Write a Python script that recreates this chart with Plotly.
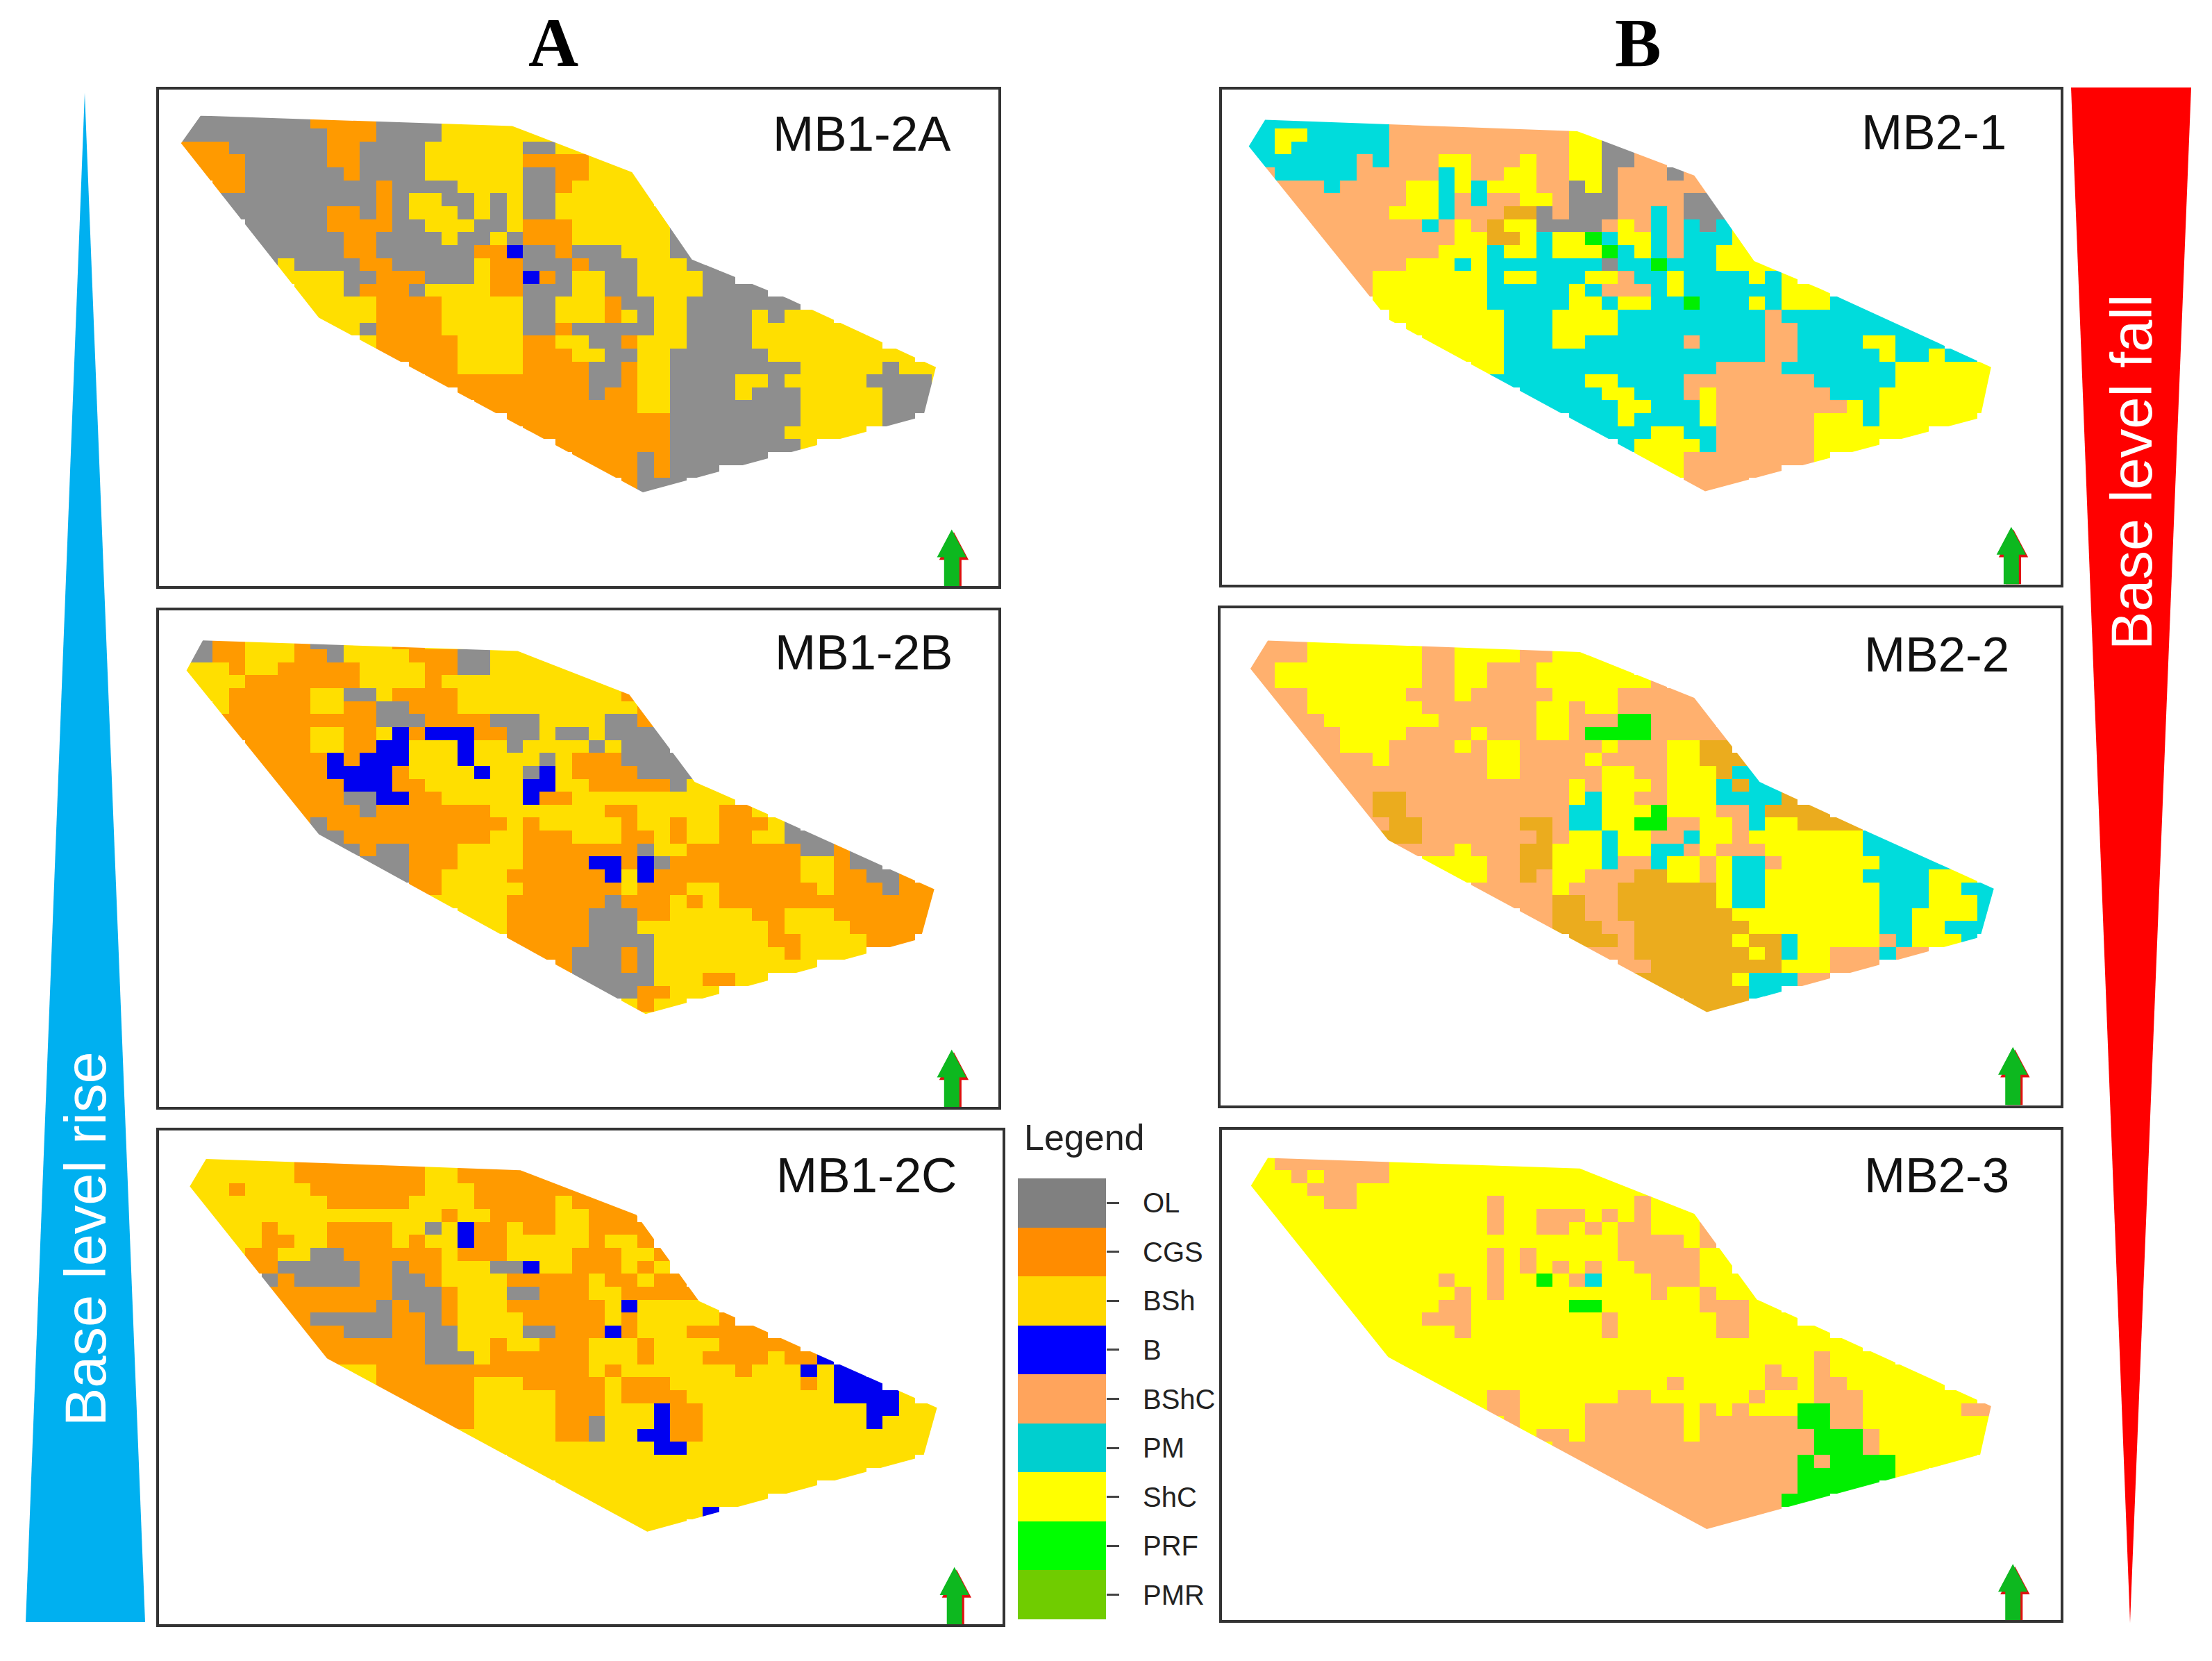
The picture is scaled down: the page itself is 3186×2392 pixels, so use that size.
import numpy as np
import plotly.graph_objects as go

W, H = 3186, 2392

LEGEND_LABELS = ["OL", "CGS", "BSh", "B", "BShC", "PM", "ShC", "PRF", "PMR"]
LEGEND_COLORS = ["#808080", "#FF8C00", "#FFD800", "#0000FF", "#FFA45C", "#00CFCF", "#FFFF00", "#00FF00", "#70CC00"]
# what the letters in the maps mean, D is the darker BShC patch that has no legend entry
MAP_CODES = "OCHBKPSFMD"
MAP_COLORS = ["#8E8E8E", "#FF9A00", "#FFDF00", "#0000F0", "#FFB06E", "#00DCDC", "#FFFF00", "#00F000", "#70CC00", "#EBAC1E"]

PANEL_NAMES = ["MB1-2A", "MB1-2B", "MB1-2C", "MB2-1", "MB2-2", "MB2-3"]

MB1_2A = [
    "OOOOOOOOCCCCOOOOHHHHH",
    "OOOOOOOOOCCCOOOOHHHHHHH",
    "CCCOOOOOOCCOOOOHHHHHHOOHH",
    "CCCCOOOOOCCOOOOHHHHHHCCCCHH",
    ".CCCOOOOOOCOOOOHHHHHHOOCCHHHH",
    "..CCOOOOOOOOCOOOOHHHHOOCHHHHH",
    "..OOOOOOOOOOCOHHOOHOHOOHHHHHH",
    "...OOOOOOCCOCOHHHOHOHOOHHHHHHH",
    "....OOOOOCCCCOOHHHOOHCCCHHHHHHO",
    "....OOOOOOCCOOOOHOOHOCCCHHHHHHOO",
    ".....OOOOOCCOOOOOOCCBOOCOOOHHHOO",
    ".....OHOOOOCCOOOOOHCCOOOCOOOHHHOO",
    "......HHHHOOCCCOOOHCCBCOHHOOHHHHOO",
    ".......HHHOCCCOHHHHCCOOOHHOOHHHHOOOO",
    ".......HHHHHCCCCHHHHHOOHHHCOOHHOOOOOOO",
    "........HHHHCCCCHHHHHOOHHHCHOHHOOOOHOHHH",
    ".........HHOCCCCHHHHHOOCOOOOOHHOOOOHHHHHHH",
    "...........HCCCCCHHHHCCHHOOCHHHOOOOHHHHHHHH",
    "............CCCCCHHHHCCCHHOOHHOOOOOOHHHHHHHHH",
    "..............CCCHHHHCCCCOOCHHOOOOOOOOHHHHHOHHH",
    "...............CCCCCCCCCCOOCHHOOOOHHOHHHHHOOOOH",
    ".................CCCCCCCCOCCHHOOOOHOOOHHHHHOOO",
    "..................CCCCCCCCCCHHOOOOOOOOHHHHHOOO",
    "....................CCCCCCCCCCOOOOOOOOHHHHHOO",
    ".....................CCCCCCCCCOOOOOOOHHHHH",
    ".......................CCCCCCCOOOOOOOOH",
    "........................CCCCOCOOOOOO",
    ".........................CCCOCOOO",
    "...........................COOO",
    "............................OO",
]

MB1_2B = [
    "OOCCHHHCOOHHHCCHHHHHH",
    "OOCCHHHCCOHHHHCCCOOHHHH",
    "HHHCHHCCCCCHHHHCCOOHHHHHH",
    "HHHHCCCCCCCHHHHCHHHHHHHHHHH",
    ".HHCCCCCHHOOHCCCCHHHHHHHHHHC",
    "..HCCCCCHHCCOOCCCHHHHHHHHHHHC",
    "..CCCCCCCCCCOOOCCCCOOOHHHHOOC",
    "...CCCCCHHCCHBCBBBCCOOHOOHOOOO",
    "....CCCCHHCCBBHHHBHHOHHHHOHOOO",
    "....CCCCCBCBBBHHHBHHHHOHCCCOOOO",
    ".....CCCCBBBBCHHHHBHHOBHCCCCOOOO",
    ".....CCCCCBBBCCHHHHHHBBHHCCCCCOHH",
    "......CCCCOOBBCCHHHHHBCCHHHHHHHHHH",
    ".......CCCCOCCCCCCCHHHHHHHCCHHHHHCCH",
    ".......COCCCCCCCCCCCHCHHHHHCHHCHHCCCHO",
    "........OOCCCCCCCCCHHCCCHHHCCHCHHCCHHOOO",
    ".........OOCOOCCCHHHHCCCCCCCOHHCCCCCCCOOCO",
    "...........OOOCCCHHHHCCCCBBCBOCCCCCCCCHHCOO",
    "............OOCCHHHHCCCCCCBHBCCCCCCCCCHHCCOOC",
    "..............CCHHHHHCCCCCCHCCCHHCCCCCCHCCCOCCC",
    "...............HHHHHCCCCCCOCCCHCHCCCCCCCCCCCCCC",
    ".................HHHCCCCCOOOCCHHHHHCCHHHCCCCCC",
    "..................HHCCCCCOOOHHHHHHHHCHHHHCCCCC",
    "....................CCCCCOOOOHHHHHHHCCHHHHCCC",
    ".....................CCCOOOCOHHHHHHHHCHHHH",
    ".......................COOOCOHHHHHHHHHH",
    "........................OOOOOHHHCCHH",
    ".........................OOOCCHHH",
    "...........................HCHH",
    "............................HH",
]

MB1_2C = [
    "HHHHHHHCCCCCCCCHHCCCCC",
    "HHHHHHHCCCCCCCCHHCCCCCCC",
    "HHHCHHHHCCCCCCCHHHCCCCCCC",
    "HHHHHHHHHCCCCCHHHHCCCCCHCCC",
    ".HHHHHHHHHHHHHHHCHHCCCCHHCCC",
    "..HHHCHHHCCCCHHOHBCCHCCHHCCCC",
    "..HHHCCHHCCCCHCHHBCCHHHHHCHHC",
    "...HCCHHOOCCCCCCHCCCHHHHCCCHHC",
    "....CCOOOOOCCOCCHHHOOBHHCCCHCH",
    ".....OCOOOOCCOOCHHHHCCCCCHCCHCC",
    ".....CCCCCCCCOOOCHHHOOCCCHHCCCCC",
    "......CCCCCCOCOOCHHHCCCCCCHBHHHHH",
    "......CCOOOOOCCOCHHHHCCCCCHCHHHHHC",
    ".......CCCOOOCCOOHHHHOOCCCBCHHHCCCCC",
    ".......CCCCCCCCOOHHCHHCCCHHHCHHHHCCCCC",
    "........CCCCCCCOOOHCCCCCCHHHCHHHCCCCHCCB",
    ".........HHHCCCCCCCCCCCCCHCHHHHHHHCHHHBHBB",
    "...........HCCCCCCHHHCCCCCHCCCHHHHHHHHCHBBB",
    "............CCCCCCHHHHHCCCHCCCCHHHHHHHHHBBBBH",
    "..............CCCCHHHHHCCCHHHBCCHHHHHHHHHHBBHHH",
    "...............CCCHHHHHCCOHHHBCCHHHHHHHHHHBHHHH",
    ".................HHHHHHCCOHHBBCCHHHHHHHHHHHHHH",
    "..................HHHHHHHHHHHBBHHHHHHHHHHHHHHH",
    "....................HHHHHHHHHHHHHHHHHHHHHHHHH",
    ".....................HHHHHHHHHHHHHHHHHHHHH",
    ".......................HHHHHHHHHHHHHHHH",
    "........................HHHHHHHHHHHH",
    ".........................HHHHHHHB",
    "...........................HHHH",
    "............................HH",
]

MB2_1 = [
    "PPPPPPPPPKKKKKKKKKKKS",
    "PPSSPPPPPKKKKKKKKKKKSSO",
    "PPSPPPPPPKKKKKKKKKKKSSOOK",
    "PPPPPPPKPKKKSSKKKSKKSSOOKK",
    ".KPPPPPKKKKKPSKKSSKKSSOKKKOK",
    "..KKKPKKKKSSPSPSSSKKOSOKKKKKK",
    "..KKKKKKKKSSPKPKKSSKOOOKKKKOO",
    "...KKKKKKSSSPKKKDDOKOOOKKPKOOO",
    "....KKKKKKKPKSKDSSOOOOKSKPKPOPS",
    "....KKKKKKKKKSSDDSPSSFPSSPKPPPS",
    ".....KKKKKKKSSSPSSPSSSFPSPKPPSSS",
    ".....KKKKKSSSPSPPPPPPPOPPFPPPSSSS",
    "......KKSSSSSSSPSSPPPSSKPPSPPPPSPS",
    ".......KSSSSSSSPPPPPSPKKKPSPPPPPPSSS",
    "........SSSSSSSPPPPPSSPSSPPFPPPSPSSSPPP",
    ".........SSSSSSSPPPSSSSPPPPPPPPPKPPPPPPP",
    "..........SSSSSSPPPSSSSPPPPPPPPPKKPPPPPPPP",
    "...........SSSSSPPPSSPPPPPPKPPPPKKPPPPSSPPP",
    "............SSSSPPPPPPPPPPPPPPPPKKPPPPPSPPSPP",
    "..............SSPPPPPPPPPPPPPKKKKPPPPPPPSSSSSSS",
    "...............PPPPPPSSPPPPKKKKKKKKPPPPPSSSSSSS",
    ".................PPPPPSSPPPKSKKKKKKKPPPSSSSSSS",
    "..................PPPPPSSPPPSKKKKKKKKSPSSSSSSS",
    "....................PPPSPPPPSKKKKKKSSSPSSSSSS",
    ".....................PPPPSSPPKKKKKKSSSSSSS",
    ".......................PSSSSPKKKKKKSSSS",
    "........................SSSKKKKKKKKS",
    ".........................SSKKKKKK",
    "...........................KKKK",
    "............................KK",
]

MB2_2 = [
    "KKKKSSSSSSSKKSSSSKKSSS",
    "KKKKSSSSSSSKKSSSSKKSSSS",
    "KKSSSSSSSSSKKSSKKKSSSSSS",
    "KKSSSSSSSSSKKSSKKKSSSSSSSK",
    ".KKKSSSSSSKKKSKKKKKSSSSKKKKK",
    "..KKSSSSSSSKKKKKKKSSKSSKKKKKK",
    "..KKKSSSSSSSKKKKKKSSKKKFFKKKK",
    "...KKKSSSSKKKKSKKKSSKFFFFKKKKK",
    "....KKSSSKKKKSKSSKKKKKSKKKSSDD",
    "....KKKKSKKKKKKSSKKKKSKKKKSSDDD",
    ".....KKKKKKKKKKSSKKKKKSSKKSSSDPP",
    ".....KKKKKKKKKKKKKKKSKSSSKSSSPDPP",
    "......KKDDKKKKKKKKKKSPSSKKSSSPPPPD",
    ".......KDDKKKKKKKKKKPPSSSFSSSKKPDDDD",
    ".......KKDDKKKKKKDDKPPSSFFKKSSKPSSDDDD",
    "........DDDKKKKKKKDKSSPSSKKPSSKSSSSSSSPPP",
    ".........KKKKSKKKDDSSSPSSPPKSKKKSSSSSSPPPP",
    "...........SSSSKKDDSSSPKKPSSKSPPKSSSSSSPPPPP",
    "............SSSKKDKSSKKKDDSSKSPPSSSSSSPPPPSSS",
    "..............KKKKKSKKKDDDDDDSPPSSSSSSSPPPSSPPP",
    "...............KKKKDDKKDDDDDDSPPSSSSSSSPPPSSSPP",
    ".................KKDDKKDDDDDDDSSSSSSSSSPPSSSSP",
    "..................KDDDKKDDDDDDDSSSSSSSSPPSSPPP",
    "....................DDDKDDDDDDSDDPSSSSSKPSSSP",
    ".....................KKKDDDDDDDSDPSSKKKPKK",
    ".......................KKDDDDDDDDSSSKKK",
    "........................DDDDDDSPPPKK",
    ".........................DDDDDDPP",
    "...........................DDDD",
    "............................DD",
]

MB2_3 = [
    "SSKKKKKKKSSSSSSSSSSSS",
    "SSSKSKKKKSSSSSSSSSSSSSS",
    "SSSSKKKSSSSSSSSSSSSSSSSSS",
    "SSSSSKKSSSSSSSSKSSSSSSSSKSS",
    ".SSSSSSSSSSSSSSKSSKKKSKSKSSS",
    "..SSSSSSSSSSSSSKSSKKSKSKKSSSK",
    "..SSSSSSSSSSSSSSSSSSSSSKKKKSK",
    "...SSSSSSSSSSSSKSKSSSSSKKKKKSS",
    "....SSSSSSSSSSSKSKSKSKSSKKKKSS",
    "....SSSSSSSSKSSKSSFSKPSSSKKKSSS",
    ".....SSSSSSSSKSKSSSSSSSSSKSSKSSS",
    ".....SSSSSSSKKSSSSSSFFSSSSSSKKKSS",
    "......SSSSSKKKSSSSSSSSKSSSSSSKKSSS",
    ".......SSSSSSKSSSSSSSSKSSSSSSKKSSSSS",
    ".......SSSSSSSSSSSSSSSSSSSSSSSSSSSSSSS",
    "........SSSSSSSSSSSSSSSSSSSSSSSSSSSKSSSS",
    ".........SSSSSSSSSSSSSSSSSSSSSSSKSSKSSSSSS",
    "...........SSSSSSSSSSSSSSSKSSSSSKKSKKSSSSSS",
    "............SSSKKSSSSSSKKSSSSSSKSSSKKKSSSSSSS",
    "..............SKKSSSSKKKKKKSKSKSSSFFKKSSSSSSKKK",
    "...............SKSSSSKKKKKKSKKKKKKFFKKSSSSSSSSS",
    ".................SKKSKKKKKKSKKKKKKKFFFKSSSSSSS",
    "..................SKKKKKKKKKKKKKKKKFFFKSSSSSSS",
    "....................KKKKKKKKKKKKKKFKFFFFSSSSS",
    ".....................KKKKKKKKKKKKKFFFFFFSS",
    ".......................KKKKKKKKKKKFFFFF",
    "........................KKKKKKKKKFFF",
    ".........................KKKKKKKK",
    "...........................KKKK",
    "............................KK",
]

MAPS = [MB1_2A, MB1_2B, MB1_2C, MB2_1, MB2_2, MB2_3]

# map outlines, same units as the grid
OUTLINE_2A = [(88, 100), (660, 132), (880, 275), (990, 545), (1165, 665), (1438, 878), (1415, 1030), (900, 1265), (305, 725), (52, 185)]
OUTLINE_2B = [(92, 112), (670, 145), (875, 280), (995, 550), (1150, 665), (1435, 882), (1410, 1035), (905, 1268), (305, 712), (62, 205)]
OUTLINE_2C = [(98, 105), (675, 140), (888, 278), (1003, 545), (1200, 695), (1440, 875), (1415, 1025), (908, 1258), (320, 722), (68, 190)]
OUTLINE_1 = [(92, 113), (665, 148), (880, 285), (990, 550), (1110, 635), (1425, 878), (1405, 1035), (900, 1262), (318, 730), (62, 195)]
OUTLINE_2 = [(97, 113), (670, 148), (880, 290), (1000, 550), (1180, 690), (1430, 880), (1405, 1030), (903, 1262), (318, 730), (65, 200)]
OUTLINE_3 = [(97, 102), (670, 135), (880, 275), (995, 540), (1425, 870), (1405, 1020), (903, 1250), (318, 718), (66, 188)]
OUTLINES = [OUTLINE_2A, OUTLINE_2B, OUTLINE_2C, OUTLINE_1, OUTLINE_2, OUTLINE_3]

# grid cell size and start
CELL_X, CELL_Y = 30, 40
START_X, START_Y = 50, 100
N_COLS, N_ROWS = 47, 30

# panel placing: where each crop of 1568 units starts on the page, and the frame inside it
CROP_SCALE_X, CROP_SCALE_Y = 1.2748, 2.148
CROP_ORIGINS = [(220, 120), (220, 870), (220, 1620), (1750, 120), (1750, 870), (1750, 1620)]
FRAMES = [(12, 1553, 20, 1555), (12, 1553, 20, 1555), (12, 1560, 18, 1545), (13, 1553, 20, 1550), (10, 1553, 12, 1550), (13, 1553, 15, 1532)]
LABEL_POS = [(1302, 155), (1305, 150), (1310, 155), (1320, 152), (1325, 155), (1325, 155)]
ARROW_X = [1467, 1467, 1472, 1462, 1465, 1465]
ARROW_TIP = [1380, 1378, 1368, 1372, 1370, 1358]


def paper_x(px):
    return px / W


def paper_y(px):
    return 1 - px / H


def discrete_scale(colors):
    n = len(colors)
    scale = []
    for i, c in enumerate(colors):
        scale.append([i / n, c])
        scale.append([(i + 1) / n, c])
    return scale


def grid_to_z(rows):
    z = np.full((N_ROWS, N_COLS), np.nan)
    for j, row in enumerate(rows):
        for i, ch in enumerate(row[:N_COLS]):
            if ch != ".":
                z[j, i] = MAP_CODES.index(ch)
    return z


def poly_path(points):
    return "M" + " L".join(f"{x},{y}" for x, y in points) + " Z"


def add_text(fig, px, py, text, size, color, family="Liberation Sans", angle=0):
    fig.add_annotation(
        x=paper_x(px), y=paper_y(py), xref="paper", yref="paper", text=text, textangle=angle,
        xanchor="center", yanchor="middle", showarrow=False,
        font=dict(family=family, size=size, color=color),
    )


def add_panel(fig, idx):
    n = idx + 1
    xname, yname = f"x{n}", f"y{n}"
    left, right, top, bottom = FRAMES[idx]
    ox, oy = CROP_ORIGINS[idx]
    frame = dict(
        showline=True, mirror=True, linewidth=4, linecolor="#333333",
        showgrid=False, zeroline=False, showticklabels=False, ticks="",
    )
    fig.layout[f"xaxis{n}"] = dict(
        frame, range=[left, right], anchor=yname,
        domain=[paper_x(ox + left / CROP_SCALE_X), paper_x(ox + right / CROP_SCALE_X)],
    )
    fig.layout[f"yaxis{n}"] = dict(
        frame, range=[bottom, top], anchor=xname,
        domain=[paper_y(oy + bottom / CROP_SCALE_Y), paper_y(oy + top / CROP_SCALE_Y)],
    )

    fig.add_trace(
        go.Heatmap(
            z=grid_to_z(MAPS[idx]),
            x0=START_X + CELL_X / 2, dx=CELL_X,
            y0=START_Y + CELL_Y / 2, dy=CELL_Y,
            colorscale=discrete_scale(MAP_COLORS),
            zmin=-0.5, zmax=len(MAP_COLORS) - 0.5,
            showscale=False, xaxis=xname, yaxis=yname, hoverinfo="skip",
        )
    )

    # white mask with a hole, gives the map its straight edges
    outer = [(30, 80), (1500, 80), (1500, 1320), (30, 1320)]
    fig.add_shape(
        type="path", path=poly_path(outer) + " " + poly_path(OUTLINES[idx]),
        xref=xname, yref=yname, fillcolor="white", line_width=0, layer="above",
    )

    # north arrow, red one sits a bit behind the green
    cx, tip = ARROW_X[idx], ARROW_TIP[idx]
    for color, dx, dy in [("#E01010", 4, 8), ("#0DB81F", 0, 0)]:
        pts = [
            (cx + dx, tip + dy), (cx + 27 + dx, tip + 86 + dy), (cx + 14 + dx, tip + 86 + dy),
            (cx + 14 + dx, bottom), (cx - 14 + dx, bottom), (cx - 14 + dx, tip + 86 + dy),
            (cx - 27 + dx, tip + 86 + dy),
        ]
        fig.add_shape(type="path", path=poly_path(pts), xref=xname, yref=yname,
                      fillcolor=color, line_width=0, layer="above")

    lx, ly = LABEL_POS[idx]
    fig.add_annotation(x=lx, y=ly, xref=xname, yref=yname, text=PANEL_NAMES[idx], showarrow=False,
                       font=dict(family="Liberation Sans", size=71, color="#111111"))


fig = go.Figure()

for i in range(len(PANEL_NAMES)):
    add_panel(fig, i)

# legend bar is a one column heatmap with its own axis
fig.add_trace(
    go.Heatmap(
        z=[[i] for i in range(len(LEGEND_LABELS))],
        x=["Legend"], y=LEGEND_LABELS,
        colorscale=discrete_scale(LEGEND_COLORS),
        zmin=-0.5, zmax=len(LEGEND_LABELS) - 0.5,
        showscale=False, xaxis="x7", yaxis="y7", hoverinfo="skip",
    )
)
fig.layout["xaxis7"] = dict(visible=False, anchor="y7", domain=[paper_x(1466), paper_x(1593)])
fig.layout["yaxis7"] = dict(
    anchor="x7", side="right", autorange="reversed", type="category",
    domain=[paper_y(2332), paper_y(1697)],
    showgrid=False, zeroline=False, showline=False,
    ticks="outside", ticklen=18, tickwidth=3, tickcolor="#444444", ticklabelstandoff=26,
    tickfont=dict(family="Liberation Sans", size=40, color="#222222"),
)

# base level wedges
fig.add_shape(type="path", xref="paper", yref="paper", fillcolor="#00B0F0", line_width=0, layer="below",
              path=poly_path([(paper_x(122), paper_y(134)), (paper_x(209), paper_y(2336)), (paper_x(37), paper_y(2336))]))
fig.add_shape(type="path", xref="paper", yref="paper", fillcolor="#FF0000", line_width=0, layer="below",
              path=poly_path([(paper_x(2983), paper_y(126)), (paper_x(3156), paper_y(126)), (paper_x(3068), paper_y(2337))]))

add_text(fig, 124, 1784, "Base level rise", 83, "white", angle=-90)
add_text(fig, 3070, 680, "Base level fall", 83, "white", angle=-90)
add_text(fig, 797, 61, "<b>A</b>", 100, "black", family="Liberation Serif")
add_text(fig, 2359, 61, "<b>B</b>", 100, "black", family="Liberation Serif")
add_text(fig, 1562, 1638, "Legend", 52, "#222222")

fig.update_layout(
    width=W, height=H, autosize=False,
    margin=dict(l=0, r=0, t=0, b=0),
    paper_bgcolor="white", plot_bgcolor="white",
    showlegend=False,
)

fig.write_html("out.html", post_script="document.body.style.margin='0';", config=dict(displayModeBar=False))
